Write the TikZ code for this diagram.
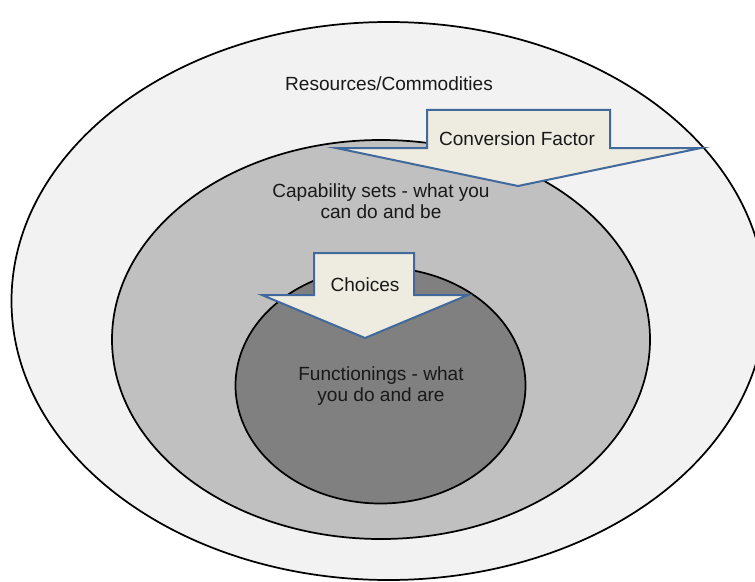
\documentclass[tikz,border=0pt]{standalone}
\usepackage{fontspec}
\setmainfont{Liberation Sans}
\usepackage{xcolor}
\usetikzlibrary{shapes.geometric, positioning}

\definecolor{ringlight}{HTML}{F2F2F2}
\definecolor{ringmid}{HTML}{C0C0C0}
\definecolor{ringdark}{HTML}{808080}
\definecolor{arrowfill}{HTML}{EEECE1}
\definecolor{arrowline}{HTML}{41699B}

\begin{document}
\begin{tikzpicture}[x=0.75pt, y=-0.75pt,
ring/.style={ellipse, draw=black, line width=1.3pt, inner sep=0pt},
blockarrow/.style={draw=arrowline, fill=arrowfill, line width=1.5pt, line join=miter},
label/.style={font=\fontsize{14.3}{15.4}\selectfont, text=black!90, align=center, inner sep=0pt}
]
	\useasboundingbox (0,0) rectangle (755,581);
	\node[ring, fill=ringlight, minimum width=565.5pt, minimum height=418.5pt] (outer) at (388.5,301) {};
	\node[ring, fill=ringmid, minimum width=403.5pt, minimum height=299.25pt] (mid) at (381,339.5) {};
	\node[ring, fill=ringdark, minimum width=217.5pt, minimum height=177pt] (inner) at (380.5,385.5) {};
	% block arrows
	\draw[blockarrow] (427,110) -- (610,110) -- (610,148) -- (701,148) -- (518,186) -- (336,148) -- (427,148) -- cycle;
	\draw[blockarrow] (314,253) -- (414,253) -- (414,295) -- (468,295) -- (365,338) -- (262,295) -- (314,295) -- cycle;
	% labels
	\node[label] (res) at (389,84) {Resources/Commodities};
	\node[label] (conv) at (517,139) {Conversion Factor};
	\node[label] (cap) at (381,201) {Capability sets - what you\\can do and be};
	\node[label] (choice) at (365,285) {Choices};
	\node[label] (func) at (381,386) {Functionings - what\\you do and are};
\end{tikzpicture}
\end{document}
